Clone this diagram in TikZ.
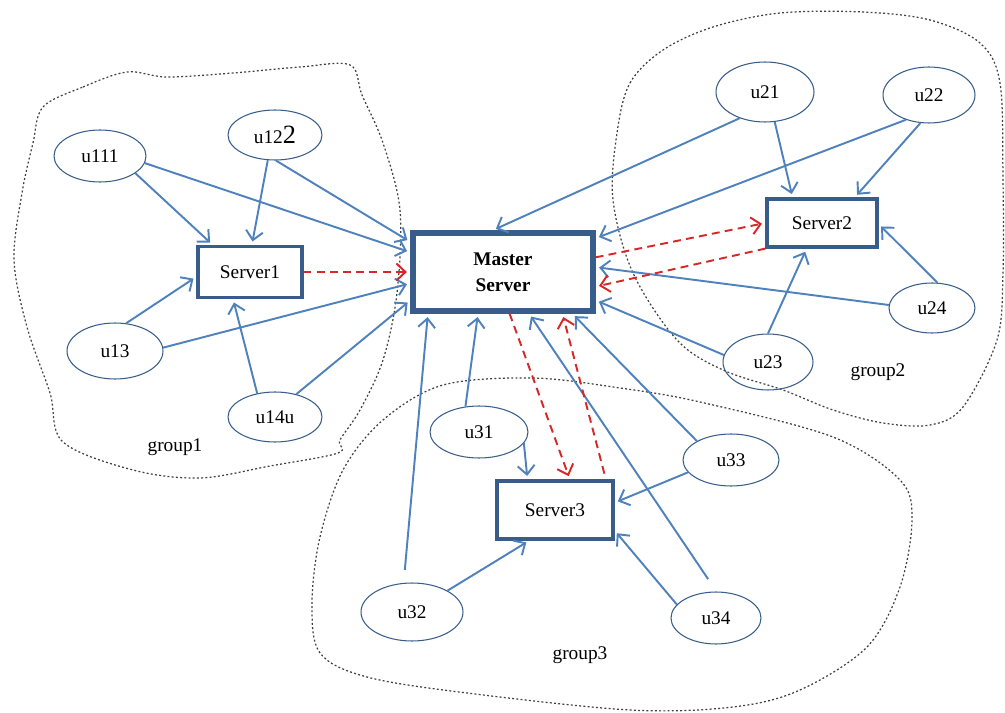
\documentclass[tikz,border=0pt]{standalone}
\usepackage{fontspec}
\setmainfont{Liberation Serif}
\usetikzlibrary{shapes.geometric,arrows.meta}
\definecolor{linkblue}{RGB}{79,129,189}
\definecolor{boxblue}{RGB}{56,93,138}
\definecolor{syncred}{RGB}{214,40,40}

\begin{document}
\begin{tikzpicture}[x=0.02cm,y=-0.02cm,
    font=\fontsize{11}{14}\selectfont,
    user/.style={ellipse,draw=boxblue,line width=0.6pt,minimum width=1.88cm,minimum height=1.04cm,inner sep=0pt},
    srv/.style={rectangle,draw=boxblue,line width=1.8pt,inner sep=0pt},
    link/.style={linkblue,line width=1.1pt,-{Straight Barb[length=1.8mm,width=3.4mm]},shorten >=2pt},
    sync/.style={syncred,line width=1.1pt,dash pattern=on 4.5pt off 3pt,-{Straight Barb[length=1.8mm,width=3.4mm]},shorten >=2pt},
    grp/.style={black!75,line width=0.7pt,dash pattern=on 1.1pt off 1.3pt}]

\useasboundingbox (0,0) rectangle (1005,713);

% groups
\draw[grp] plot[smooth cycle,tension=0.55] coordinates {(43,107) (83,87) (127,72) (167,77) (233,73) (300,67) (350,65) (362,95) (383,143) (400,210) (397,293) (383,360) (360,410) (340,440) (338,453) (270,466) (200,478) (133,470) (63,442) (50,393) (27,327) (14,260) (22,193) (33,143)};
\draw[grp] plot[smooth cycle,tension=0.55] coordinates {(617,133) (630,83) (663,50) (713,27) (780,13) (863,12) (930,20) (980,43) (1000,83) (1003,180) (1003,273) (997,340) (963,407) (930,425) (883,423) (833,410) (783,390) (723,370) (677,340) (633,273) (613,200)};
\draw[grp] plot[smooth cycle,tension=0.55] coordinates {(443,385) (533,378) (620,388) (700,402) (833,437) (900,480) (912,520) (900,587) (867,647) (800,690) (733,707) (630,710) (467,693) (367,677) (320,653) (312,603) (320,537) (343,470) (383,420)};
\node (g1) at (175,447) {group1};
\node (g2) at (878,372) {group2};
\node (g3) at (580,655) {group3};

% servers
\node[srv,line width=3pt,minimum width=3.6cm,minimum height=1.56cm,align=center,font=\bfseries\fontsize{11}{15}\selectfont] (master) at (503,272) {Master\\Server};
\node[srv,minimum width=2.08cm,minimum height=1.02cm] (server1) at (250,272) {Server1};
\node[srv,minimum width=2.2cm,minimum height=0.96cm] (server2) at (822,223) {Server2};
\node[srv,minimum width=2.32cm,minimum height=1.16cm] (server3) at (555,510) {Server3};

% users
\node[user,minimum width=1.84cm] (u111) at (100,156) {u111};
\node[user,minimum height=1cm] (u122) at (275,135) {u12{\fontsize{15}{15}\selectfont 2}};
\node[user,minimum width=1.92cm,minimum height=1.12cm] (u13) at (115,351) {u13};
\node[user,minimum height=1cm] (u14u) at (275,417) {u14u};
\node[user,minimum width=1.96cm,minimum height=1.2cm] (u21) at (765,92) {u21};
\node[user,minimum width=1.84cm,minimum height=1.12cm] (u22) at (929,95) {u22};
\node[user,minimum width=1.72cm,minimum height=1cm] (u24) at (932,308) {u24};
\node[user,minimum width=1.8cm,minimum height=1.12cm] (u23) at (768,362) {u23};
\node[user,minimum width=1.96cm] (u31) at (479,432) {u31};
\node[user,minimum width=2.04cm,minimum height=1.16cm] (u32) at (412,612) {u32};
\node[user,minimum width=1.92cm] (u33) at (731,460) {u33};
\node[user,minimum width=1.8cm] (u34) at (716,618) {u34};

% group1
\draw[link] (u111.-26) -- (server1.144);
\draw[link] (u111.-9) -- (master.168);
\draw[link] (u122.254) -- (server1.86);
\draw[link] (u122.-88) -- (master.162);
\draw[link] (u13.68) -- (server1.185);
\draw[link] (u13.4) -- (master.187);
\draw[link] (u14u.127) -- (server1.238);
\draw[link] (u14u.47) -- (master.197);
\draw[sync] (server1.east) -- (master.west);

% group2
\draw[link] (u21.226) -- (master.104);
\draw[link] (u21.-72) -- (server2.139);
\draw[link] (u22.227) -- (master.20);
\draw[link] (u22.253) -- (server2.38);
\draw[link] (u24.176) -- (master.3);
\draw[link] (u24.78) -- (server2.-1);
\draw[link] (u23.90) -- (server2.239);
\draw[link] (u23.171) -- (master.-17);
\draw[sync] (master.9) -- (server2.west);
\draw[sync] (server2.south west) -- (master.-9);

% group3
\draw[link] (u31.118) -- (master.239);
\draw[link] (u31.-14) -- (server3.132);
\draw[link,shorten <=0.26cm] (u32.106) -- (master.209);
\draw[link] (u32.31) -- (server3.230);
\draw[link,shorten <=0.3cm] (u34.89) -- (master.-58);
\draw[link] (u34.161) -- (server3.-19);
\draw[link] (u33.151) -- (master.-31);
\draw[link] (u33.196) -- (server3.7);
\draw[sync] (master.279) -- (server3.64);
\draw[sync,shorten <=0.12cm] (server3.31) -- (master.-35);
\end{tikzpicture}
\end{document}
